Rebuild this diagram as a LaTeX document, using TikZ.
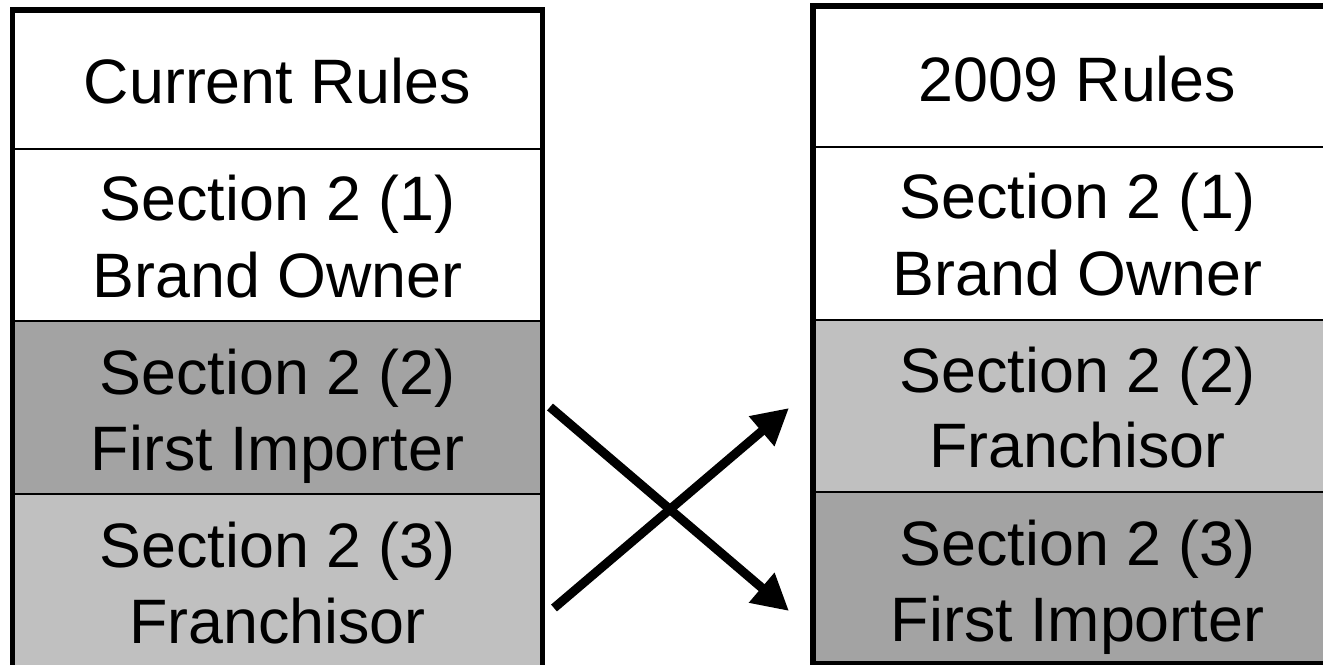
\documentclass[tikz,border=0pt]{standalone}
\usepackage{fontspec}
\setmainfont{Liberation Sans}
\usetikzlibrary{arrows.meta}
\definecolor{darkcell}{RGB}{163,163,163}
\definecolor{lightcell}{RGB}{192,192,192}
\tikzset{
  cell/.style={draw=black, line width=2.5bp, minimum width=527bp, inner sep=0pt},
  txt/.style={anchor=base, inner sep=0pt, font=\fontsize{63}{76}\selectfont},
  frame/.style={draw=black, line width=5.5bp},
  swaparrow/.style={line width=9bp, -{Triangle[length=36bp,width=37bp]}}
}
\begin{document}
\begin{tikzpicture}[x=1bp,y=-1bp]
\useasboundingbox (0,0) rectangle (1323,664);
\clip (0,0) rectangle (1323,664);
% left column
\node[cell, fill=white, minimum height=137.5bp] (lh) at (277.5,80.25) {};
\node[cell, fill=white, minimum height=172bp] (l1) at (277.5,235) {};
\node[cell, fill=darkcell, minimum height=173bp] (l2) at (277.5,407.5) {};
\node[cell, fill=lightcell, minimum height=174bp] (l3) at (277.5,581) {};
\draw[frame] (lh.north west) rectangle (l3.south east);
\node[txt] (lht) at (277.5,104) {Current Rules};
\node[txt] (l1a) at (277.5,220) {Section 2 (1)};
\node[txt] (l1b) at (277.5,297) {Brand Owner};
\node[txt] (l2a) at (277.5,394) {Section 2 (2)};
\node[txt] (l2b) at (277.5,470) {First Importer};
\node[txt] (l3a) at (277.5,567) {Section 2 (3)};
\node[txt] (l3b) at (277.5,643) {Franchisor};
% right column
\node[cell, fill=white, minimum height=139.5bp] (rh) at (1077.5,77.25) {};
\node[cell, fill=white, minimum height=173bp] (r1) at (1077.5,233.5) {};
\node[cell, fill=lightcell, minimum height=172bp] (r2) at (1077.5,406) {};
\node[cell, fill=darkcell, minimum height=170bp] (r3) at (1077.5,577) {};
\draw[frame] (rh.north west) rectangle (r3.south east);
\node[txt] (rht) at (1077.5,101.5) {2009 Rules};
\node[txt] (r1a) at (1077.5,218) {Section 2 (1)};
\node[txt] (r1b) at (1077.5,295) {Brand Owner};
\node[txt] (r2a) at (1077.5,392) {Section 2 (2)};
\node[txt] (r2b) at (1077.5,467) {Franchisor};
\node[txt] (r3a) at (1077.5,565) {Section 2 (3)};
\node[txt] (r3b) at (1077.5,641) {First Importer};
% arrows
\coordinate (a1s) at (550,407);
\coordinate (a1e) at (789,611);
\coordinate (a2s) at (554,608);
\coordinate (a2e) at (789,408);
\draw[swaparrow] (a1s) -- (a1e);
\draw[swaparrow] (a2s) -- (a2e);
\end{tikzpicture}
\end{document}
